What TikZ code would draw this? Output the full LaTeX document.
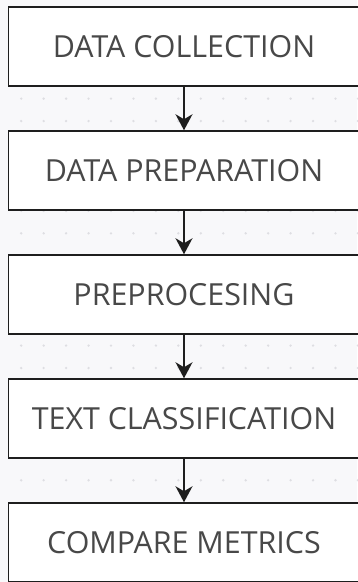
\documentclass[tikz,border=0pt]{standalone}
\usepackage{fontspec}
\setmainfont{Open Sans}
\usepackage{tikz}
\usetikzlibrary{arrows.meta}

\definecolor{bgpaper}{RGB}{248,248,250}
\definecolor{griddot}{RGB}{222,222,226}
\definecolor{boxtext}{RGB}{72,72,72}
\definecolor{boxline}{RGB}{30,30,30}

\tikzset{
  stage/.style={draw=boxline,line width=1.5pt,fill=white,minimum width=351pt,minimum height=79pt,
    inner sep=0pt,text=boxtext,font=\fontsize{30.4}{36}\selectfont},
  flow/.style={draw=boxline,line width=1.5pt,-{Stealth[length=16pt,width=17pt,inset=5pt]}}
}

\begin{document}
\begin{tikzpicture}[x=1pt,y=-1pt]
\useasboundingbox (0,0) rectangle (357,582);

% paper with dot grid:
\fill[bgpaper] (0,0) rectangle (357,582);
\foreach \gx in {0,...,15}
  \foreach \gy in {0,...,21}
    \fill[griddot] ({21.2+22.45*\gx},{8.8+22.45*\gy}) circle (1.3pt);

% stages:
\node[stage] (collect) at (184,46.5) {DATA COLLECTION};
\node[stage] (prep) at (184,170.5) {DATA PREPARATION};
\node[stage] (preproc) at (184,294.5) {PREPROCESING};
\node[stage] (classify) at (184,418.5) {TEXT CLASSIFICATION};
\node[stage] (metrics) at (184,542.5) {COMPARE METRICS};

% arrows:
\draw[flow] (collect) -- (prep);
\draw[flow] (prep) -- (preproc);
\draw[flow] (preproc) -- (classify);
\draw[flow] (classify) -- (metrics);

\end{tikzpicture}
\end{document}
